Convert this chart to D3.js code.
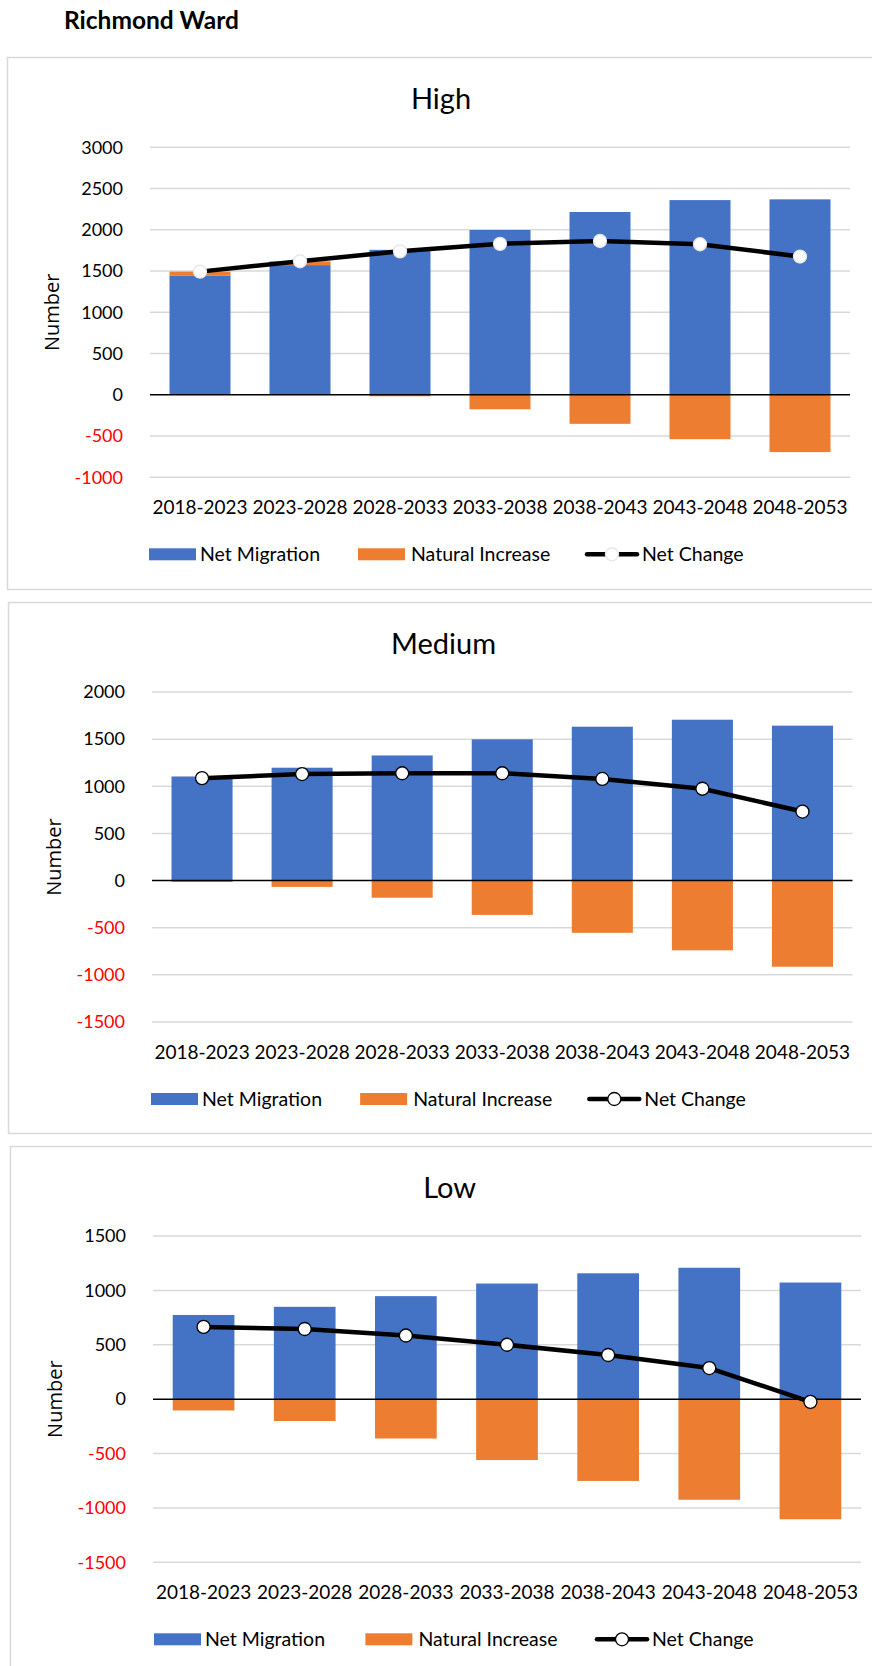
<!DOCTYPE html>
<html>
<head>
<meta charset="utf-8" />
<title>Richmond Ward</title>
<script src="https://cdn.jsdelivr.net/npm/d3@7"></script>
<style>
    body {
        margin: 0;
        background: #fff;
    }
    svg text { font-family: "Lato", sans-serif; }
    .grid line { stroke: #d9d9d9; stroke-width: 1.5; }
    .tick-label { font-size: 18px; }
    .cat-label { font-size: 19px; fill: #000; }
    .legend-label { font-size: 19.5px; fill: #000; }
    .chart-title { font-size: 29px; fill: #000; }
    svg text.y-title { font-family: "Open Sans", sans-serif; font-size: 20px; fill: #000; }
</style>
</head>
<body>
<div id="graphic"></div>
<script>
// periods on the x axis
var categories = ["2018-2023", "2023-2028", "2028-2033", "2033-2038", "2038-2043", "2043-2048", "2048-2053"];

// High scenario
var highMigration = [1447, 1572, 1757, 1998, 2216, 2360, 2369];
var highNatural = [46, 46, -18, -176, -352, -538, -695];
var highNet = [1493, 1618, 1739, 1830, 1864, 1825, 1676];
var highTicks = [3000, 2500, 2000, 1500, 1000, 500, 0, -500, -1000];

// Medium scenario
var mediumMigration = [1104, 1197, 1327, 1498, 1632, 1706, 1643];
var mediumNatural = [-15, -67, -182, -364, -554, -740, -914];
var mediumNet = [1086, 1130, 1138, 1138, 1078, 974, 732];
var mediumTicks = [2000, 1500, 1000, 500, 0, -500, -1000, -1500];

// Low scenario
var lowMigration = [774, 849, 947, 1063, 1157, 1208, 1072];
var lowNatural = [-104, -201, -362, -560, -752, -925, -1104];
var lowNet = [664, 645, 585, 500, 406, 286, -25];
var lowTicks = [1500, 1000, 500, 0, -500, -1000, -1500];

var seriesNames = ["Net Migration", "Natural Increase", "Net Change"];

var blue = "#4472c4",
    orange = "#ed7d31";

var W = 872, H = 1666;

var svg = d3.select("#graphic").append("svg")
    .attr("width", W)
    .attr("height", H);

svg.append("text")
    .attr("x", 64)
    .attr("y", 29)
    .style("font-weight", "bold")
    .style("font-size", "24.5px")
    .text("Richmond Ward");

// one chart panel
function drawPanel(opt) {
    // outer frame (runs off the right edge)
    svg.append("rect")
        .attr("x", opt.box[0] + 0.5)
        .attr("y", opt.box[1] + 0.5)
        .attr("width", W + 20)
        .attr("height", opt.box[2] - opt.box[1])
        .attr("fill", "none")
        .attr("stroke", "#d9d9d9")
        .attr("stroke-width", 1.5);

    var ticks = opt.ticks;
    var x = d3.scaleBand()
        .domain(categories)
        .range([opt.left, opt.right])
        .paddingInner(0.39)
        .paddingOuter(0.195);

    var y = d3.scaleLinear()
        .domain([d3.min(ticks), d3.max(ticks)])
        .range([opt.bottom, opt.top]);

    var g = svg.append("g");

    // gridlines
    g.append("g").attr("class", "grid")
        .selectAll("line")
        .data(ticks.filter(function (t) { return t !== 0; }))
        .enter().append("line")
        .attr("x1", opt.left).attr("x2", opt.right)
        .attr("y1", function (d) { return y(d); })
        .attr("y2", function (d) { return y(d); });

    // y tick labels
    var yAxis = d3.axisLeft(y)
        .tickValues(ticks)
        .tickFormat(function (d) { return String(d); })
        .tickSize(0)
        .tickPadding(27);
    var ya = g.append("g")
        .attr("transform", "translate(" + opt.left + ",0)")
        .call(yAxis)
        .attr("font-family", null)
        .attr("font-size", null);
    ya.select(".domain").remove();
    ya.selectAll("text")
        .attr("class", "tick-label")
        .attr("fill", function (d) { return d < 0 ? "#ff0000" : "#000"; });

    // stacked bars
    var rows = categories.map(function (c, i) {
        return { cat: c, mig: opt.mig[i], nat: opt.nat[i] };
    });
    var stack = d3.stack()
        .keys(["mig", "nat"])
        .offset(d3.stackOffsetDiverging);
    var layers = stack(rows);
    var colors = { mig: blue, nat: orange };

    g.selectAll(".layer")
        .data(layers)
        .enter().append("g")
        .attr("fill", function (d) { return colors[d.key]; })
        .selectAll("rect")
        .data(function (d) { return d; })
        .enter().append("rect")
        .attr("x", function (d) { return x(d.data.cat); })
        .attr("width", x.bandwidth())
        .attr("y", function (d) { return y(Math.max(d[0], d[1])); })
        .attr("height", function (d) { return Math.abs(y(d[0]) - y(d[1])); });

    // zero line
    g.append("line")
        .attr("x1", opt.left).attr("x2", opt.right)
        .attr("y1", y(0)).attr("y2", y(0))
        .attr("stroke", "#000")
        .attr("stroke-width", 1.5);

    // category labels
    var xAxis = d3.axisBottom(x).tickSize(0).tickPadding(0);
    var xa = g.append("g")
        .attr("transform", "translate(0," + (opt.bottom + 30) + ")")
        .call(xAxis)
        .attr("font-family", null)
        .attr("font-size", null);
    xa.select(".domain").remove();
    xa.selectAll("text")
        .attr("class", "cat-label")
        .attr("dy", "0.35em");

    // net change line
    var cx = function (i) { return x(categories[i]) + x.bandwidth() / 2; };
    var line = d3.line()
        .x(function (d, i) { return cx(i); })
        .y(function (d) { return y(d); });
    g.append("path")
        .datum(opt.net)
        .attr("d", line)
        .attr("fill", "none")
        .attr("stroke", "#000")
        .attr("stroke-width", 4.5)
        .attr("stroke-linejoin", "round");

    g.selectAll(".dot")
        .data(opt.net)
        .enter().append("circle")
        .attr("cx", function (d, i) { return cx(i); })
        .attr("cy", function (d) { return y(d); })
        .attr("r", 6.5)
        .attr("fill", "#fff")
        .attr("stroke", opt.markerStroke)
        .attr("stroke-width", 1.3);

    // title
    svg.append("text")
        .attr("class", "chart-title")
        .attr("x", opt.titleX)
        .attr("y", opt.top - 48)
        .attr("dy", "0.35em")
        .attr("text-anchor", "middle")
        .text(opt.title);

    // y axis title
    svg.append("text")
        .attr("class", "y-title")
        .attr("transform", "translate(" + (opt.left - 98) + "," + ((opt.top + opt.bottom) / 2) + ") rotate(-90)")
        .attr("text-anchor", "middle")
        .attr("dy", "0.35em")
        .text("Number");

    // legend
    var k = (opt.right - opt.left) / 700;
    var ly = opt.bottom + 77;
    var lg = svg.append("g").attr("transform", "translate(" + opt.left + "," + ly + ")");
    [[blue, 0], [orange, 1]].forEach(function (s) {
        var lx = (s[1] === 0 ? -1 : 208) * k + opt.legendShift;
        lg.append("rect")
            .attr("x", lx).attr("y", -6)
            .attr("width", 47).attr("height", 12)
            .attr("fill", s[0]);
        lg.append("text")
            .attr("class", "legend-label")
            .attr("x", lx + 51 + (s[1] === 0 ? 0 : 2))
            .attr("dy", "0.35em")
            .text(seriesNames[s[1]]);
    });
    var llx = 437 * k + opt.legendShift;
    lg.append("line")
        .attr("x1", llx).attr("x2", llx + 50)
        .attr("stroke", "#000").attr("stroke-width", 4.5)
        .attr("stroke-linecap", "round");
    lg.append("circle")
        .attr("cx", llx + 25).attr("r", 6.5)
        .attr("fill", "#fff")
        .attr("stroke", opt.markerStroke)
        .attr("stroke-width", 1.3);
    lg.append("text")
        .attr("class", "legend-label")
        .attr("x", llx + 55)
        .attr("dy", "0.35em")
        .text(seriesNames[2]);
}

drawPanel({
    title: "High", titleX: 441,
    box: [7, 57, 589],
    left: 150, right: 850, top: 147.3, bottom: 477.3,
    ticks: highTicks, mig: highMigration, nat: highNatural, net: highNet,
    markerStroke: "#e6e6e6", legendShift: 0
});

drawPanel({
    title: "Medium", titleX: 443.5,
    box: [8, 602, 1133],
    left: 152, right: 852.5, top: 692, bottom: 1022,
    ticks: mediumTicks, mig: mediumMigration, nat: mediumNatural, net: mediumNet,
    markerStroke: "#000", legendShift: 0
});

drawPanel({
    title: "Low", titleX: 449.7,
    box: [10, 1146, 1700],
    left: 153, right: 861, top: 1236, bottom: 1562.3,
    ticks: lowTicks, mig: lowMigration, nat: lowNatural, net: lowNet,
    markerStroke: "#000", legendShift: 2
});
</script>
</body>
</html>
